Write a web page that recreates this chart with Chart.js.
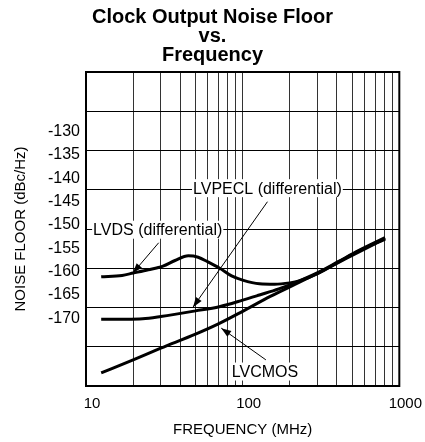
<!DOCTYPE html>
<html>
<head>
<meta charset="utf-8">
<script src="https://cdn.jsdelivr.net/npm/chart.js@4"></script>
<style>
  html, body { margin: 0; padding: 0; background: #fff; }
  #wrap { width: 425px; height: 442px; }
</style>
</head>
<body>
<div id="wrap"><canvas id="noiseChart" width="425" height="442"></canvas></div>
<script>
// Values (frequency in MHz, noise floor in dBc/Hz)
var lvdsFreq = [12.5, 17, 20, 25, 31, 37, 45, 52, 60, 71, 85, 100, 128, 160, 200, 229, 306, 410, 549, 811];
var lvdsDb   = [-161.1, -160.8, -160.3, -159.6, -158.8, -157.6, -156.6, -156.9, -157.9, -159.2, -160.9, -161.8, -162.6, -162.7, -162.4, -162.0, -160.3, -157.9, -155.6, -153.0];

var lvpeclFreq = [12.5, 18, 23, 30, 50, 71, 100, 128, 170, 229, 306, 410, 549, 811];
var lvpeclDb   = [-170.2, -170.2, -170.1, -169.6, -168.4, -167.5, -166.1, -165.0, -163.7, -162.0, -160.1, -157.8, -155.5, -152.7];

var lvcmosFreq = [12.5, 20, 30, 50, 70, 100, 150, 229, 306, 410, 549, 811];
var lvcmosDb   = [-181.7, -178.9, -176.4, -173.4, -171.2, -168.5, -165.3, -162.3, -160.2, -158.0, -155.8, -152.9];

var yTickLabels = [-130, -135, -140, -145, -150, -155, -160, -165, -170];
var xTickLabels = [10, 100, 1000];

function toPoints(freq, db) {
  return freq.map(function (f, i) { return { x: f, y: db[i] }; });
}

// log grid: 1..9 per decade
var xGrid = [];
[10, 100].forEach(function (d) {
  for (var k = 1; k < 10; k++) xGrid.push(k * d);
});
xGrid.push(1000);

// callout labels and arrows, in data units
var notes = [
  { text: 'LVDS (differential)',   x: 11.1, y: -151.0, from: [29.1, -153.8], to: [19.9, -160.3] },
  { text: 'LVPECL (differential)', x: 48.2, y: -142.1, from: [144, -145.0],  to: [48.2, -167.6] },
  { text: 'LVCMOS',                x: 85.2, y: -181.4, from: [140.7, -178.9], to: [73, -172.1] }
];

Chart.defaults.font.family = '"Liberation Sans", Arial, sans-serif';
Chart.defaults.color = '#000';

var calloutPlugin = {
  id: 'callouts',
  afterDatasetsDraw: function (chart) {
    var ctx = chart.ctx;
    var xs = chart.scales.x, ys = chart.scales.y;
    var a = chart.chartArea;
    ctx.save();
    // frame
    ctx.strokeStyle = '#000';
    ctx.lineWidth = 2;
    ctx.strokeRect(a.left, a.top, a.right - a.left, a.bottom - a.top);

    ctx.font = '16px "Liberation Sans", Arial, sans-serif';
    ctx.textBaseline = 'middle';
    notes.forEach(function (n) {
      var px = xs.getPixelForValue(n.x), py = ys.getPixelForValue(n.y);
      var w = ctx.measureText(n.text).width;
      ctx.fillStyle = '#fff';
      ctx.fillRect(px - 1, py - 9, w + 2, 18);
      ctx.fillStyle = '#000';
      ctx.fillText(n.text, px, py + 1);

      var x0 = xs.getPixelForValue(n.from[0]), y0 = ys.getPixelForValue(n.from[1]);
      var x1 = xs.getPixelForValue(n.to[0]), y1 = ys.getPixelForValue(n.to[1]);
      ctx.strokeStyle = '#000';
      ctx.lineWidth = 1;
      ctx.beginPath();
      ctx.moveTo(x0, y0);
      ctx.lineTo(x1, y1);
      ctx.stroke();
      var ang = Math.atan2(y1 - y0, x1 - x0);
      ctx.beginPath();
      ctx.moveTo(x1, y1);
      ctx.lineTo(x1 - 10 * Math.cos(ang) + 3.5 * Math.sin(ang), y1 - 10 * Math.sin(ang) - 3.5 * Math.cos(ang));
      ctx.lineTo(x1 - 10 * Math.cos(ang) - 3.5 * Math.sin(ang), y1 - 10 * Math.sin(ang) + 3.5 * Math.cos(ang));
      ctx.closePath();
      ctx.fill();
    });
    ctx.restore();
  }
};

function curve(label, freq, db) {
  return {
    label: label,
    data: toPoints(freq, db),
    borderColor: '#000',
    borderWidth: 3,
    pointRadius: 0,
    fill: false,
    cubicInterpolationMode: 'monotone'
  };
}

var ctx = document.getElementById('noiseChart').getContext('2d');
var noiseChart = new Chart(ctx, {
  type: 'line',
  data: {
    datasets: [
      curve('LVDS (differential)', lvdsFreq, lvdsDb),
      curve('LVPECL (differential)', lvpeclFreq, lvpeclDb),
      curve('LVCMOS', lvcmosFreq, lvcmosDb)
    ]
  },
  options: {
    responsive: false,
    animation: false,
    layout: { padding: 0 },
    plugins: {
      legend: { display: false },
      tooltip: { enabled: false },
      title: {
        display: true,
        text: ['Clock Output Noise Floor', 'vs.', 'Frequency'],
        font: { size: 20, weight: 'bold', lineHeight: 0.95 },
        color: '#000',
        padding: { top: 8, bottom: 7 }
      }
    },
    scales: {
      x: {
        type: 'logarithmic',
        position: 'bottom',
        min: 10,
        max: 1000,
        afterBuildTicks: function (s) { s.ticks = xGrid.map(function (v) { return { value: v }; }); },
        grid: { color: '#333', lineWidth: 1, drawTicks: false },
        border: { display: false },
        ticks: {
          font: { size: 15 },
          padding: 9,
          labelOffset: 6,
          autoSkip: false,
          maxRotation: 0,
          callback: function (v) {
            return xTickLabels.indexOf(Math.round(v)) >= 0 ? String(Math.round(v)) : '';
          }
        },
        title: { display: true, text: 'FREQUENCY (MHz)', font: { size: 15 }, padding: { top: 0, bottom: 3 } },
        afterFit: function (s) { s.height = 56; }
      },
      y: {
        type: 'linear',
        position: 'left',
        min: -184.5,
        max: -117.2,
        afterBuildTicks: function (s) { s.ticks = yTickLabels.map(function (v) { return { value: v }; }); },
        grid: { display: false, drawTicks: false },
        border: { display: false },
        ticks: { font: { size: 16 }, padding: 6 },
        title: { display: true, text: 'NOISE FLOOR (dBc/Hz)', font: { size: 15 }, padding: { top: 12, bottom: 0 } },
        afterFit: function (s) { s.width = 86; }
      },
      yg: {
        type: 'linear',
        position: 'right',
        min: 0,
        max: 8,
        ticks: { display: false, stepSize: 1 },
        grid: { color: '#000', lineWidth: 1, drawTicks: false },
        border: { display: false },
        afterFit: function (s) { s.width = 24; }
      }
    }
  },
  plugins: [calloutPlugin]
});
</script>
</body>
</html>
